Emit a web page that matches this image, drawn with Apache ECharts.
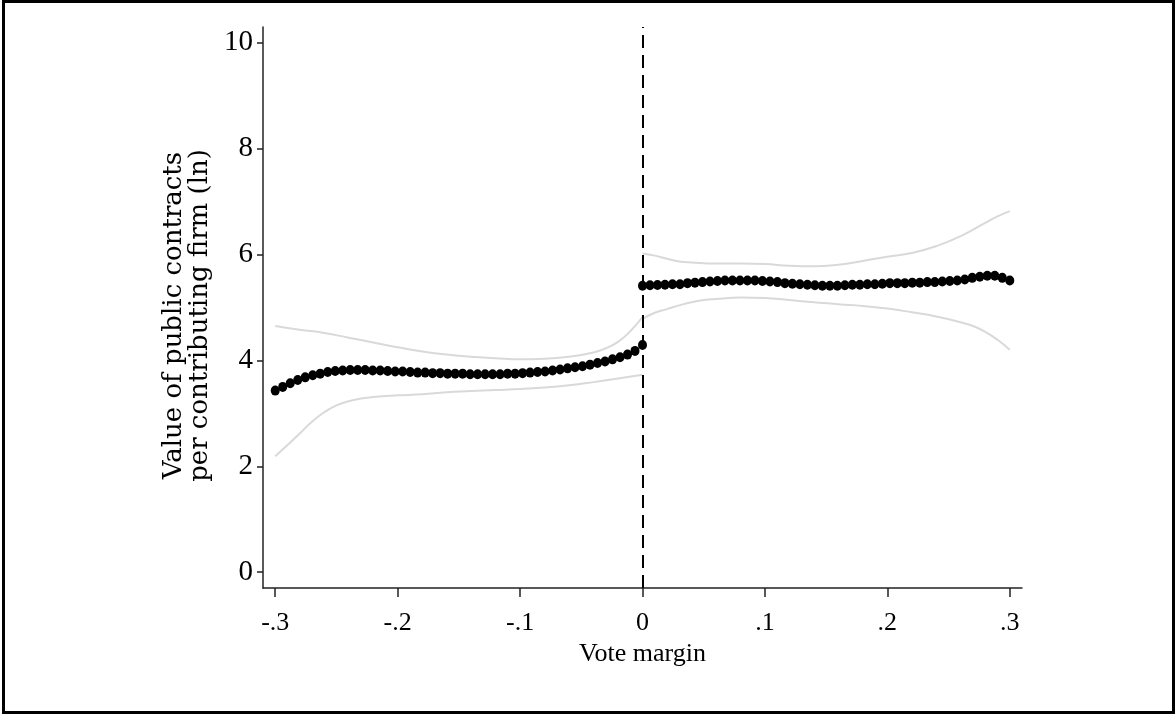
<!DOCTYPE html>
<html>
<head>
<meta charset="utf-8">
<script src="https://cdn.jsdelivr.net/npm/echarts@6/dist/echarts.min.js"></script>
<style>
html,body{margin:0;padding:0;background:#fff;}
#chart{width:1176px;height:715px;}
</style>
</head>
<body>
<div id="chart"></div>
<script>
// Tick values and labels
const xTickValues = [-0.3, -0.2, -0.1, 0, 0.1, 0.2, 0.3];
const xTickLabels = ['-.3', '-.2', '-.1', '0', '.1', '.2', '.3'];
const yTickValues = [0, 2, 4, 6, 8, 10];
const yTickLabels = ['0', '2', '4', '6', '8', '10'];

// Binned means, left of cutoff (50 bins from -.3 to 0)
const leftY = [3.43, 3.50, 3.57, 3.63, 3.68, 3.72, 3.75, 3.78, 3.80, 3.81,
               3.82, 3.82, 3.82, 3.81, 3.81, 3.80, 3.79, 3.79, 3.78, 3.77,
               3.77, 3.76, 3.76, 3.75, 3.75, 3.75, 3.74, 3.74, 3.74, 3.74,
               3.74, 3.75, 3.75, 3.76, 3.77, 3.78, 3.79, 3.81, 3.83, 3.85,
               3.87, 3.89, 3.92, 3.95, 3.98, 4.02, 4.06, 4.11, 4.18, 4.29];
// Binned means, right of cutoff (50 bins from 0 to .3)
const rightY = [5.41, 5.42, 5.425, 5.43, 5.44, 5.44, 5.46, 5.47, 5.48, 5.49,
                5.50, 5.51, 5.51, 5.51, 5.51, 5.51, 5.50, 5.49, 5.48, 5.46,
                5.45, 5.44, 5.43, 5.42, 5.41, 5.41, 5.41, 5.42, 5.43, 5.43,
                5.44, 5.44, 5.45, 5.46, 5.46, 5.46, 5.47, 5.47, 5.48, 5.48,
                5.49, 5.50, 5.51, 5.53, 5.56, 5.58, 5.60, 5.60, 5.56, 5.51];

// Confidence bands
const leftUpper = [[-0.30,4.65],[-0.28,4.58],[-0.26,4.52],[-0.24,4.43],[-0.22,4.34],[-0.20,4.25],
                   [-0.18,4.17],[-0.16,4.11],[-0.14,4.07],[-0.12,4.04],[-0.10,4.02],[-0.08,4.03],
                   [-0.06,4.07],[-0.04,4.15],[-0.03,4.23],[-0.02,4.35],[-0.01,4.55],[0,4.82]];
const leftLower = [[-0.30,2.19],[-0.29,2.40],[-0.28,2.62],[-0.27,2.84],[-0.26,3.02],[-0.25,3.15],
                   [-0.24,3.23],[-0.23,3.28],[-0.22,3.31],[-0.20,3.34],[-0.18,3.36],[-0.16,3.40],
                   [-0.14,3.42],[-0.12,3.44],[-0.10,3.46],[-0.08,3.49],[-0.06,3.53],[-0.04,3.59],
                   [-0.02,3.66],[0,3.73]];
const rightUpper = [[0,6.02],[0.01,5.98],[0.02,5.92],[0.03,5.87],[0.04,5.85],[0.06,5.83],
                    [0.08,5.83],[0.10,5.82],[0.12,5.79],[0.14,5.78],[0.16,5.81],[0.18,5.88],
                    [0.20,5.96],[0.22,6.03],[0.24,6.16],[0.26,6.35],[0.28,6.60],[0.29,6.72],[0.30,6.82]];
const rightLower = [[0,4.78],[0.01,4.90],[0.02,4.97],[0.03,5.04],[0.04,5.10],[0.05,5.14],
                    [0.06,5.16],[0.08,5.19],[0.10,5.18],[0.12,5.14],[0.14,5.10],[0.16,5.06],
                    [0.18,5.03],[0.20,4.98],[0.22,4.91],[0.24,4.83],[0.26,4.72],[0.27,4.65],
                    [0.28,4.54],[0.29,4.39],[0.30,4.20]];

const cutoff = 0;
const xTitle = 'Vote margin';
const yTitle = 'Value of public contracts\nper contributing firm (ln)';

function bins(vals, start, end) {
  const n = vals.length;
  return vals.map((v, i) => [start + (end - start) * i / (n - 1), v]);
}
function findLabel(v, values, labels) {
  for (let k = 0; k < values.length; k++) {
    if (Math.abs(v - values[k]) < 1e-9) return labels[k];
  }
  return '';
}

const chart = echarts.init(document.getElementById('chart'), null, {renderer: 'canvas'});
const ciStyle = {color: '#d9d9d9', width: 2};
const dotStyle = {color: '#000000', opacity: 1};

chart.setOption({
  animation: false,
  backgroundColor: '#ffffff',
  grid: {left: 263, right: 154, top: 27, bottom: 127, containLabel: false},
  graphic: [{
    type: 'rect',
    shape: {x: 3.5, y: 1.5, width: 1170, height: 711},
    style: {fill: 'none', stroke: '#000', lineWidth: 3},
    silent: true
  }],
  xAxis: {
    type: 'value',
    min: -0.31, max: 0.31,
    name: xTitle,
    nameLocation: 'middle',
    nameGap: 45,
    nameTextStyle: {fontFamily: 'Liberation Serif', fontSize: 26, color: '#000'},
    axisLine: {show: true, onZero: false, lineStyle: {color: '#222', width: 1.5}},
    axisTick: {show: true, customValues: xTickValues, length: 9, lineStyle: {color: '#222', width: 1.5}},
    axisLabel: {
      customValues: xTickValues,
      margin: 22,
      fontFamily: 'Liberation Serif', fontSize: 26, color: '#000',
      formatter: v => findLabel(v, xTickValues, xTickLabels)
    },
    splitLine: {show: false}
  },
  yAxis: {
    type: 'value',
    min: -0.3, max: 10.3,
    name: yTitle,
    nameLocation: 'middle',
    nameRotate: 90,
    nameGap: 47,
    nameTextStyle: {fontFamily: 'DejaVu Serif', fontSize: 26, lineHeight: 26, color: '#000', align: 'center', padding: [0, 16, 0, 0]},
    axisLine: {show: true, onZero: false, lineStyle: {color: '#222', width: 1.5}},
    axisTick: {show: true, customValues: yTickValues, length: 6, lineStyle: {color: '#222', width: 1.5}},
    axisLabel: {
      customValues: yTickValues,
      margin: 10,
      fontFamily: 'Liberation Serif', fontSize: 29, color: '#000',
      formatter: v => findLabel(v, yTickValues, yTickLabels)
    },
    splitLine: {show: false}
  },
  series: [
    {type: 'line', data: leftUpper, smooth: true, showSymbol: false, lineStyle: ciStyle, silent: true, z: 1},
    {type: 'line', data: leftLower, smooth: true, showSymbol: false, lineStyle: ciStyle, silent: true, z: 1},
    {type: 'line', data: rightUpper, smooth: true, showSymbol: false, lineStyle: ciStyle, silent: true, z: 1},
    {type: 'line', data: rightLower, smooth: true, showSymbol: false, lineStyle: ciStyle, silent: true, z: 1},
    {
      type: 'scatter', data: bins(leftY, -0.3, 0), symbol: 'circle', symbolSize: [9, 10],
      itemStyle: dotStyle, z: 3,
      markLine: {
        silent: true, symbol: 'none', label: {show: false},
        lineStyle: {color: '#000', width: 2, type: [13, 7]},
        data: [{xAxis: cutoff}]
      }
    },
    {
      type: 'scatter', data: bins(rightY, 0, 0.3), symbol: 'circle', symbolSize: [9, 10],
      itemStyle: dotStyle, z: 3
    }
  ]
});
</script>
</body>
</html>
